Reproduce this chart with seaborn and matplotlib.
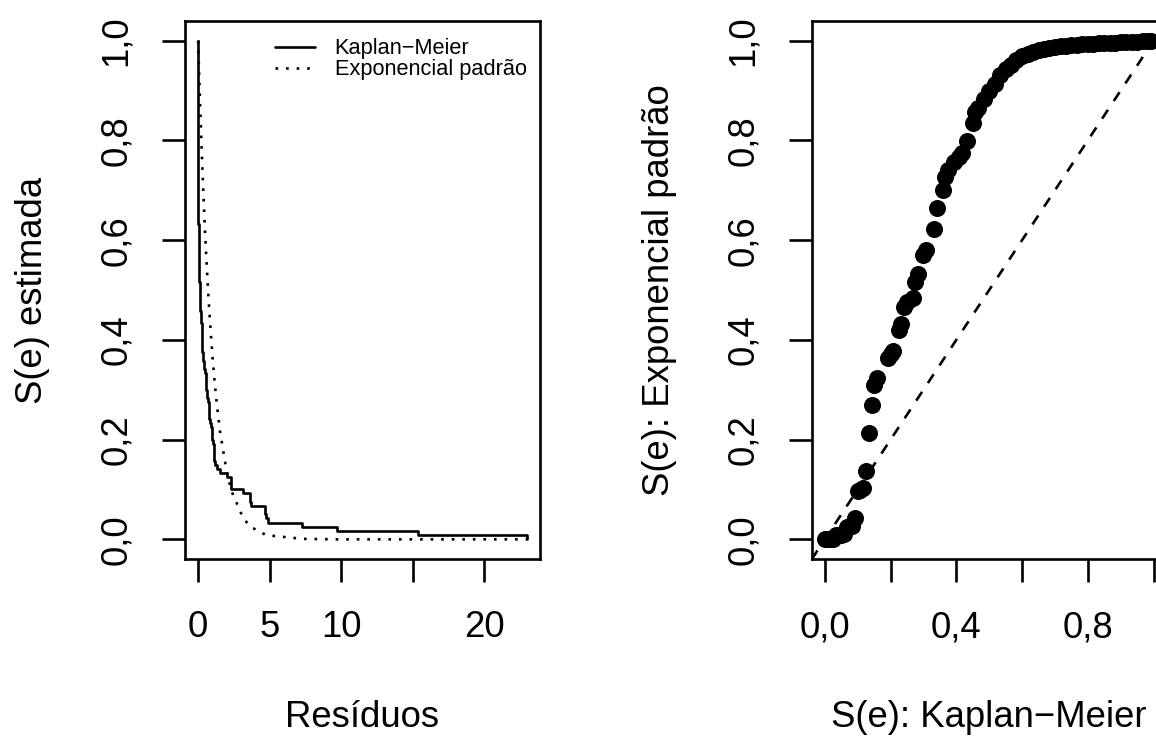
import numpy as np
import pandas as pd
import matplotlib
matplotlib.use("Agg")
import matplotlib.pyplot as plt
import seaborn as sns

# ---- data ----
residuos = [0.0005, 0.001, 0.0015, 0.002, 0.0025, 0.003, 0.0035, 0.004, 0.0045, 0.005,
            0.0055, 0.006, 0.0065, 0.007, 0.008, 0.009, 0.010, 0.011, 0.012, 0.014,
            0.016, 0.019, 0.022, 0.026, 0.032, 0.040, 0.050, 0.058, 0.070, 0.090,
            0.105, 0.125, 0.145, 0.155, 0.180, 0.225, 0.255, 0.265, 0.280, 0.300,
            0.320, 0.355, 0.410, 0.475, 0.545, 0.560, 0.630, 0.660, 0.725, 0.745,
            0.765, 0.840, 0.870, 0.975, 0.990, 1.010, 1.130, 1.170, 1.310, 1.540,
            1.990, 2.280, 2.310, 2.330, 3.140, 3.600, 3.650, 3.680, 4.650, 4.700,
            4.720, 4.890, 7.290, 9.730, 15.40, 22.98]
km = [0.992, 0.983, 0.967, 0.950, 0.933, 0.917, 0.900, 0.883, 0.867, 0.850,
      0.833, 0.817, 0.800, 0.783, 0.767, 0.750, 0.733, 0.717, 0.700, 0.683,
      0.667, 0.650, 0.633, 0.617, 0.600, 0.583, 0.567, 0.550, 0.533, 0.517,
      0.500, 0.483, 0.467, 0.458, 0.450, 0.433, 0.417, 0.408, 0.392, 0.375,
      0.367, 0.358, 0.342, 0.333, 0.308, 0.300, 0.283, 0.275, 0.267, 0.250,
      0.242, 0.233, 0.225, 0.208, 0.200, 0.192, 0.158, 0.150, 0.142, 0.133,
      0.125, 0.117, 0.108, 0.100, 0.092, 0.083, 0.075, 0.067, 0.058, 0.050,
      0.042, 0.033, 0.025, 0.017, 0.008, 0.000]
expo = [1.000, 0.999, 0.999, 0.998, 0.998, 0.997, 0.997, 0.996, 0.996, 0.995,
        0.995, 0.994, 0.994, 0.993, 0.992, 0.991, 0.990, 0.989, 0.988, 0.986,
        0.984, 0.981, 0.978, 0.974, 0.969, 0.961, 0.951, 0.944, 0.932, 0.914,
        0.900, 0.882, 0.865, 0.856, 0.835, 0.799, 0.775, 0.767, 0.756, 0.741,
        0.726, 0.701, 0.664, 0.622, 0.580, 0.571, 0.533, 0.517, 0.484, 0.475,
        0.465, 0.432, 0.419, 0.377, 0.372, 0.364, 0.323, 0.310, 0.270, 0.214,
        0.137, 0.102, 0.099, 0.097, 0.043, 0.027, 0.026, 0.025, 0.010, 0.009,
        0.009, 0.008, 0.001, 0.000, 0.000, 0.000]
km_start = [1.0]
res_start = [0.0]

yticks = [0.0, 0.2, 0.4, 0.6, 0.8, 1.0]
ytick_labels = ["0,0", "0,2", "0,4", "0,6", "0,8", "1,0"]
xticks_res = [0, 5, 10, 15, 20]
xtick_labels_res = ["0", "5", "10", "", "20"]
xticks_km = [0.0, 0.2, 0.4, 0.6, 0.8, 1.0]
xtick_labels_km = ["0,0", "", "0,4", "", "0,8", ""]

legend_labels = ["Kaplan\u2212Meier", "Exponencial padr\u00e3o"]

# ---- style ----
sns.set_style("white")
plt.rcParams["font.family"] = ["Liberation Sans", "DejaVu Sans"]
plt.rcParams["axes.unicode_minus"] = False
plt.rcParams["text.color"] = "black"
plt.rcParams["axes.labelcolor"] = "black"
plt.rcParams["xtick.color"] = "black"
plt.rcParams["ytick.color"] = "black"

LW = 1.9
FS = 26.3
W, H = 1156, 738

fig = plt.figure(figsize=(W / 100, H / 100), dpi=100)
ax1 = fig.add_axes([185 / W, (H - 559.3) / H, 355 / W, 538.6 / H])
ax2 = fig.add_axes([811.7 / W, (H - 559.3) / H, 355 / W, 538.6 / H])

df = pd.DataFrame({"residuos": residuos, "km": km, "expo": expo})
curve = pd.DataFrame({"residuos": res_start + residuos, "km": km_start + km})

# left panel
sns.lineplot(data=curve, x="residuos", y="km", drawstyle="steps-post",
             estimator=None, sort=False, color="black", lw=LW,
             label=legend_labels[0], ax=ax1)
sns.lineplot(data=df, x="residuos", y="expo", estimator=None, sort=False,
             color="black", lw=LW, ls=(0, (1, 3)),
             label=legend_labels[1], ax=ax1)
xmax = max(residuos)
ax1.set_xlim(-0.04 * xmax, 1.04 * xmax)
ax1.set_ylim(-0.04, 1.04)
ax1.set_xticks(xticks_res)
ax1.set_xticklabels(xtick_labels_res)
ax1.set_xlabel("Res\u00edduos", fontsize=FS)
ax1.set_ylabel("S(e) estimada", fontsize=FS)
leg = ax1.legend(loc="upper right", bbox_to_anchor=(0.9625, 0.967), frameon=False,
                 fontsize=15.7, handlelength=1.83, handletextpad=0.92,
                 labelspacing=0.0, borderpad=0, borderaxespad=0)
for t in leg.get_texts():
    t.set_color("black")

# right panel
sns.scatterplot(data=df, x="km", y="expo", color="black", s=150,
                linewidth=0, ax=ax2)
ax2.axline((0, 0), slope=1, color="black", lw=LW, ls=(0, (4, 4)))
ax2.set_xlim(-0.04, 1.04)
ax2.set_ylim(-0.04, 1.04)
ax2.set_xticks(xticks_km)
ax2.set_xticklabels(xtick_labels_km)
ax2.set_xlabel("S(e): Kaplan\u2212Meier", fontsize=FS)
ax2.set_ylabel("S(e): Exponencial padr\u00e3o", fontsize=FS)

for ax in (ax1, ax2):
    ax.set_yticks(yticks)
    ax.set_yticklabels(ytick_labels, rotation=90, va="center")
    for sp in ax.spines.values():
        sp.set_visible(True)
        sp.set_color("black")
        sp.set_linewidth(LW)
    ax.tick_params(axis="both", which="major", direction="out", length=16.6,
                   width=LW, labelsize=FS, pad=20, colors="black",
                   left=True, bottom=True, top=False, right=False)
    ax.xaxis.set_label_coords(0.5, -0.261)
    ax.yaxis.set_label_coords(-0.38, 0.5)
    ax.xaxis.label.set_color("black")
    ax.yaxis.label.set_color("black")
    ax.set_facecolor("white")

fig.savefig("out.png", dpi=100, facecolor="white")
